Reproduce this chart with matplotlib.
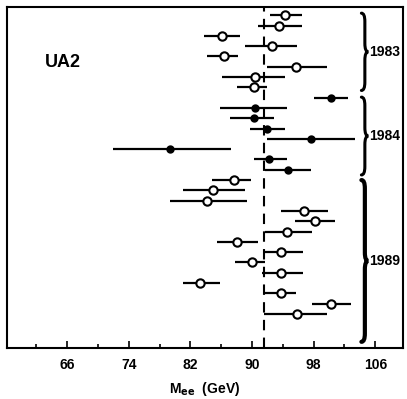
import matplotlib
matplotlib.use("Agg")
import matplotlib.pyplot as plt
from matplotlib.path import Path
from matplotlib.patches import PathPatch
import numpy as np

plt.rcParams['font.family'] = ['Liberation Sans', 'DejaVu Sans']

# Event masses (GeV) and error-bar ends, top to bottom
mass = [94.3, 93.5, 86.1, 92.6, 86.4, 95.7, 90.4, 90.2,
        100.2, 90.4, 90.2, 91.9, 97.6, 79.3, 92.2, 94.7,
        87.6, 85.0, 84.2, 96.8, 98.2, 94.6, 88.1, 93.8, 90.0, 93.8, 83.3, 93.7, 100.3, 95.9]
low = [92.4, 90.8, 83.8, 89.1, 84.2, 92.0, 86.1, 88.1,
       98.0, 85.9, 87.2, 89.8, 92.0, 71.9, 90.2, 91.7,
       84.8, 81.1, 79.4, 93.7, 95.6, 91.7, 85.5, 91.5, 87.8, 91.3, 81.0, 91.5, 97.8, 91.5]
high = [96.5, 96.5, 88.5, 95.9, 88.2, 99.8, 94.3, 92.0,
        102.4, 94.6, 92.8, 94.3, 103.4, 87.3, 94.6, 97.6,
        89.9, 89.1, 89.4, 99.9, 100.8, 97.8, 90.8, 96.6, 91.7, 96.6, 85.9, 95.7, 102.9, 99.8]
year = [1983] * 8 + [1984] * 8 + [1989] * 14
mz = 91.5

major_ticks = [66, 74, 82, 90, 98, 106]
minor_ticks = [62, 70, 78, 86, 94, 102]

mass = np.array(mass); low = np.array(low); high = np.array(high); year = np.array(year)
idx = np.arange(len(mass))

fig = plt.figure(figsize=(4.07, 3.99), dpi=100)
ax = fig.add_axes([7/407, 1 - 348/399, 396/407, 341/399])

for yr in [1983, 1984, 1989]:
    m = year == yr
    filled = yr == 1984
    ax.errorbar(mass[m], idx[m], xerr=[mass[m] - low[m], high[m] - mass[m]],
                fmt='o', color='black', ecolor='black', elinewidth=1.6,
                markersize=4.5 if filled else 6,
                markerfacecolor='black' if filled else 'white',
                markeredgecolor='black', markeredgewidth=1.5, capsize=0, zorder=3)

ax.axvline(mz, color='black', lw=1.5, ls=(0, (5, 3.5)), zorder=1)

ax.set_xlim(58.2, 109.6)
ax.set_ylim(32.3, -0.8)
ax.set_yticks([])
ax.set_xticks(major_ticks)
ax.set_xticks(minor_ticks, minor=True)
ax.set_xticklabels([str(t) for t in major_ticks], fontweight='bold', fontsize=10)
ax.tick_params(axis='x', which='major', direction='in', length=5, width=1.2, pad=7)
ax.tick_params(axis='x', which='minor', direction='in', length=3, width=1.2)
for s in ax.spines.values():
    s.set_linewidth(1.5)

ax.set_xlabel(r'M$_{\mathbf{ee}}$  (GeV)', fontweight='bold', fontsize=10, labelpad=6)

ax.text(0.096, 0.836, 'UA2', transform=ax.transAxes, fontsize=13,
        fontweight='bold', va='center', ha='left')


def brace(x, y0, y1, w, lw):
    ym = (y0 + y1) / 2
    r = 0.8
    xm = x + w / 2
    verts = [(x, y0), (xm, y0), (xm, y0 + r), (xm, ym - r), (xm, ym), (x + w, ym),
             (xm, ym), (xm, ym + r), (xm, y1 - r), (xm, y1), (x, y1)]
    codes = [Path.MOVETO, Path.CURVE3, Path.CURVE3, Path.LINETO, Path.CURVE3, Path.CURVE3,
             Path.CURVE3, Path.CURVE3, Path.LINETO, Path.CURVE3, Path.CURVE3]
    ax.add_patch(PathPatch(Path(verts, codes), fill=False, lw=lw, color='black',
                           clip_on=False, capstyle='round'))


groups = [(1983, -0.2, 7.3), (1984, 7.95, 15.5), (1989, 16.0, 31.7)]
for yr, y0, y1, in groups:
    brace(104.2, y0, y1, 0.9, 2.2 if yr != 1989 else 3.0)
    ax.text(105.2, (y0 + y1) / 2, str(yr), fontsize=10, fontweight='bold',
            va='center', ha='left')

fig.savefig('out.png', dpi=100)
